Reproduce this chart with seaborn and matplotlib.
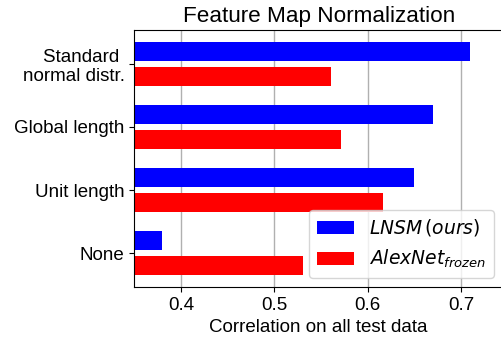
import matplotlib
matplotlib.use("Agg")
import matplotlib.pyplot as plt
import seaborn as sns
import pandas as pd

categories = ["Standard \nnormal distr.", "Global length", "Unit length", "None"]
lnsm_values = [0.710, 0.670, 0.650, 0.380]
alexnet_values = [0.561, 0.571, 0.616, 0.531]
series_labels = [r"$LNSM\,(ours)$", r"$AlexNet_{frozen}$"]
series_colors = ["#0000ff", "#ff0000"]
x_ticks = [0.4, 0.5, 0.6, 0.7]

plt.rcParams["font.family"] = ["Liberation Sans", "DejaVu Sans"]
plt.rcParams["font.size"] = 13.5

df = pd.DataFrame({
    "method": categories * 2,
    "corr": lnsm_values + alexnet_values,
    "model": [series_labels[0]] * len(categories) + [series_labels[1]] * len(categories),
})

fig = plt.figure(figsize=(5.02, 3.44), dpi=100)
ax = fig.add_axes([134.3 / 502, 57 / 344, (503 - 134.3) / 502, 257 / 344])
sns.barplot(data=df, y="method", x="corr", hue="model", hue_order=series_labels,
            order=categories, orient="h", palette=series_colors, saturation=1,
            gap=0.25, width=0.8, errorbar=None, ax=ax)

ax.set_xlim(0.35, 0.745)
ax.set_ylim(3.535, -0.535)
ax.set_xticks(x_ticks)
ax.set_xticklabels([f"{t:.1f}" for t in x_ticks])
ax.tick_params(labelsize=13.5)
ax.set_axisbelow(True)
ax.grid(axis="x", color="#b0b0b0", linewidth=1.0)
ax.grid(axis="y", visible=False)
ax.set_ylabel("")
ax.set_xlabel("Correlation on all test data", fontsize=13.5)
ax.set_title("Feature Map Normalization", fontsize=16.2)
for s in ax.spines.values():
    s.set_color("black")

handles, labels = ax.get_legend_handles_labels()
ax.legend(handles, labels, loc="lower right", fontsize=13.5, framealpha=0.8)

fig.savefig("out.png", dpi=100)
